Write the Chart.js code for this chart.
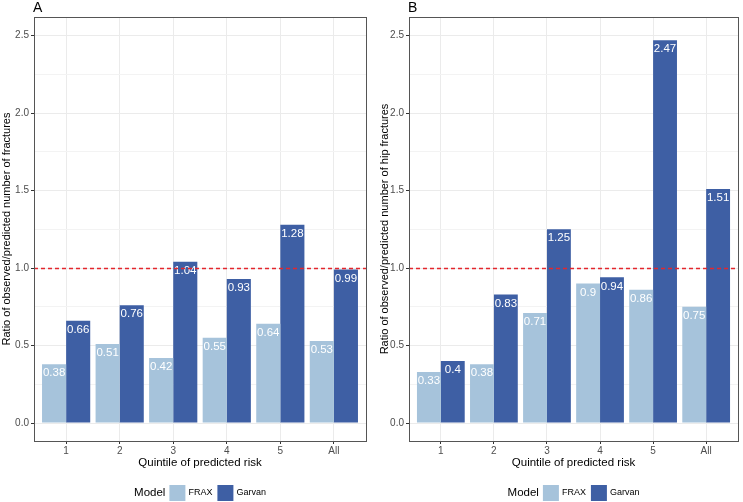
<!DOCTYPE html>
<html>
<head>
<meta charset="utf-8">
<script src="https://cdn.jsdelivr.net/npm/chart.js@4.4.1/dist/chart.umd.min.js"></script>
<style>
  body { margin: 0; background: #fff; }
  .panel { position: absolute; top: 0; height: 502px; }
  #panel-a { left: 0; width: 371px; }
  #panel-b { left: 372px; width: 371px; }
</style>
</head>
<body>
<div class="panel" id="panel-a"><canvas id="chart-a"></canvas></div>
<div class="panel" id="panel-b"><canvas id="chart-b"></canvas></div>
<script>
const categories = ["1", "2", "3", "4", "5", "All"];
const positions = [1, 2, 3, 4, 5, 6];
const seriesNames = ["FRAX", "Garvan"];
const fraxA = [0.38, 0.51, 0.42, 0.55, 0.64, 0.53];
const garvanA = [0.66, 0.76, 1.04, 0.93, 1.28, 0.99];
const fraxB = [0.33, 0.38, 0.71, 0.9, 0.86, 0.75];
const garvanB = [0.4, 0.83, 1.25, 0.94, 2.47, 1.51];
const yTicks = [0, 0.25, 0.5, 0.75, 1, 1.25, 1.5, 1.75, 2, 2.25, 2.5];
const referenceLine = 1;

const colors = ["#a6c3db", "#3e5fa4"];
const FONT = "'Liberation Sans', Arial, sans-serif";

function isMajor(v) {
  return Math.abs(v * 2 - Math.round(v * 2)) < 1e-9;
}

const extras = {
  id: "extras",
  afterDatasetsDraw(chart) {
    const ctx = chart.ctx;
    ctx.save();
    ctx.fillStyle = "#ffffff";
    ctx.font = "11.5px " + FONT;
    ctx.textAlign = "center";
    ctx.textBaseline = "middle";
    chart.data.datasets.forEach((ds, di) => {
      chart.getDatasetMeta(di).data.forEach((bar, i) => {
        ctx.fillText(String(ds.data[i].y), bar.x, bar.y + 9);
      });
    });
    // reference line
    const a = chart.chartArea;
    const y = Math.round(chart.scales.y.getPixelForValue(referenceLine)) + 0.5;
    ctx.strokeStyle = "#e3272d";
    ctx.lineWidth = 1.3;
    ctx.setLineDash([4, 3]);
    ctx.beginPath();
    ctx.moveTo(a.left, y);
    ctx.lineTo(a.right, y);
    ctx.stroke();
    ctx.restore();
  },
  afterDraw(chart, args, opts) {
    const ctx = chart.ctx;
    const a = chart.chartArea;
    ctx.save();
    ctx.strokeStyle = "#555555";
    ctx.lineWidth = 1;
    ctx.strokeRect(Math.round(a.left) + 0.5, Math.round(a.top) + 0.5,
      Math.round(a.right - a.left), Math.round(a.bottom - a.top));

    // panel tag
    ctx.fillStyle = "#000";
    ctx.font = "14px " + FONT;
    ctx.textAlign = "left";
    ctx.textBaseline = "alphabetic";
    ctx.fillText(opts.tag, a.left - 1, 12);

    // x title
    const cx = (a.left + a.right) / 2;
    ctx.font = "11.5px " + FONT;
    ctx.textAlign = "center";
    ctx.textBaseline = "middle";
    ctx.fillText("Quintile of predicted risk", cx, 463);

    // legend
    ctx.font = "11.5px " + FONT;
    const titleW = ctx.measureText("Model").width;
    ctx.font = "9px " + FONT;
    const labW = seriesNames.map(n => ctx.measureText(n).width);
    const key = 16, gap = 4, spacing = 5;
    const total = titleW + gap + seriesNames.length * (key + 3) + labW.reduce((s, w) => s + w, 0) + spacing;
    let x = cx - total / 2;
    const ly = 493;
    ctx.textAlign = "left";
    ctx.font = "11.5px " + FONT;
    ctx.fillText("Model", x, ly);
    x += titleW + gap;
    ctx.font = "9px " + FONT;
    seriesNames.forEach((n, i) => {
      ctx.fillStyle = colors[i];
      ctx.fillRect(x, ly - key / 2, key, key);
      x += key + 3;
      ctx.fillStyle = "#000";
      ctx.fillText(n, x, ly);
      x += labW[i] + spacing;
    });
    ctx.restore();
  }
};

function makeChart(id, tag, frax, garvan, yTitle, leftPad, titlePad) {
  const series = [frax, garvan];
  return new Chart(id, {
    type: "bar",
    data: {
      datasets: series.map((vals, s) => ({
        label: seriesNames[s],
        data: positions.map((p, i) => ({ x: p, y: vals[i] })),
        backgroundColor: colors[s],
        borderWidth: 0,
        categoryPercentage: 0.9,
        barPercentage: 1.0
      }))
    },
    options: {
      responsive: true,
      maintainAspectRatio: false,
      animation: false,
      layout: { padding: { top: 17, right: 5, bottom: 0, left: leftPad } },
      plugins: {
        legend: { display: false },
        tooltip: { enabled: false },
        extras: { tag: tag }
      },
      scales: {
        x: {
          type: "linear",
          min: 0.4,
          max: 6.6,
          offset: false,
          afterBuildTicks: s => { s.ticks = positions.map(v => ({ value: v })); },
          afterFit: s => { s.height = 61; },
          border: { display: false },
          grid: { offset: false, color: "#ebebeb", lineWidth: 1, tickLength: 3, tickColor: "#333333" },
          ticks: {
            autoSkip: false,
            maxRotation: 0,
            padding: 1,
            color: "#4d4d4d",
            font: { family: FONT, size: 10 },
            callback: v => categories[positions.indexOf(v)]
          }
        },
        y: {
          min: -0.116,
          max: 2.62,
          afterBuildTicks: s => { s.ticks = yTicks.map(v => ({ value: v })); },
          afterFit: s => { s.width = 34; },
          border: { display: false },
          grid: {
            color: c => isMajor(c.tick.value) ? "#ebebeb" : "#f3f3f3",
            tickLength: 3,
            tickColor: c => isMajor(c.tick.value) ? "#333333" : "rgba(0,0,0,0)"
          },
          ticks: {
            autoSkip: false,
            padding: 2,
            color: "#4d4d4d",
            font: { family: FONT, size: 10 },
            callback: v => isMajor(v) ? v.toFixed(1) : ""
          },
          title: {
            display: true,
            text: yTitle,
            color: "#000",
            font: { family: FONT, size: 11 },
            padding: { top: titlePad, bottom: 0 }
          }
        }
      }
    },
    plugins: [extras]
  });
}

makeChart("chart-a", "A", fraxA, garvanA,
  "Ratio of observed/predicted number of fractures", 0, 0);
makeChart("chart-b", "B", fraxB, garvanB,
  "Ratio of observed/predicted number of hip fractures", 3, 3);
</script>
</body>
</html>
